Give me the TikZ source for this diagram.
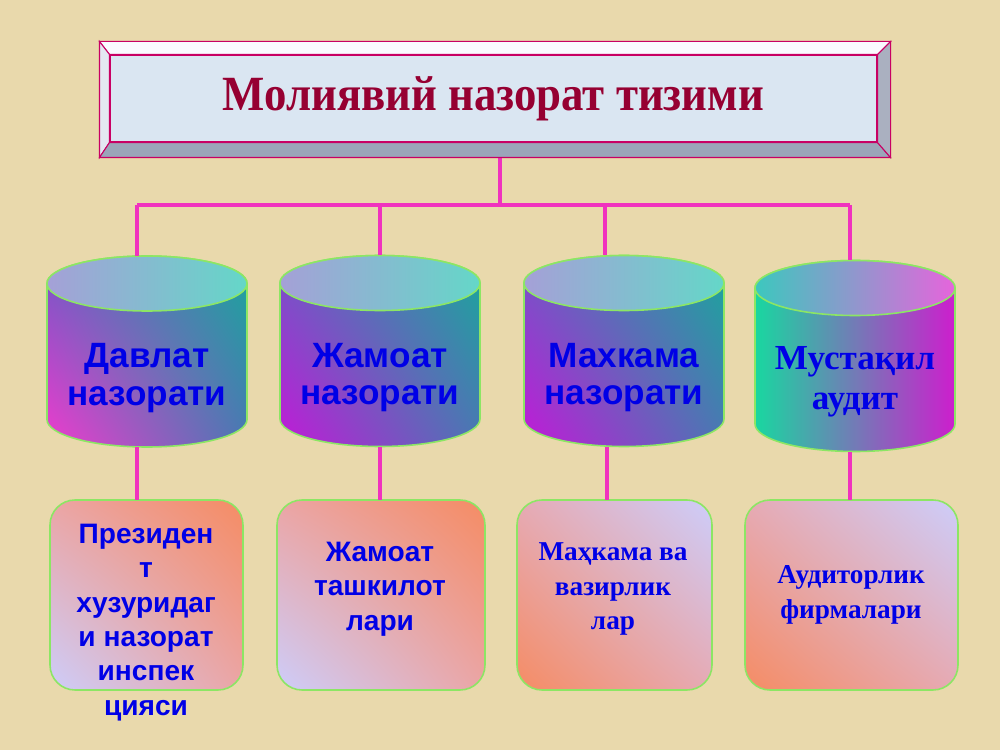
\documentclass[tikz,border=0pt]{standalone}
\usepackage{fontspec}
\setmainfont{Liberation Serif}
\newfontfamily\sansfont{Liberation Sans}
\newfontfamily\titlefont{Liberation Serif}[FakeStretch=0.91]
\usepackage{tikz}
\usetikzlibrary{calc,shadings}

\definecolor{parch}{RGB}{233,217,172}
\definecolor{linkpink}{RGB}{240,50,190}
\definecolor{rimgreen}{RGB}{140,230,100}
\definecolor{framered}{RGB}{200,0,100}
\definecolor{titlered}{RGB}{150,0,50}
\definecolor{titleblue}{RGB}{218,230,242}
\definecolor{labelblue}{RGB}{0,0,230}
% cylinder colours
\definecolor{lidlav}{RGB}{165,160,215}
\definecolor{lidturq}{RGB}{100,215,200}
\definecolor{lidteal}{RGB}{60,200,190}
\definecolor{lidpink}{RGB}{230,100,220}
\definecolor{bodypurple}{RGB}{112,88,198}
\definecolor{bodyteal}{RGB}{25,168,155}
\definecolor{bodypink}{RGB}{240,60,205}
\definecolor{bodymag}{RGB}{195,25,215}
\definecolor{bodysteel}{RGB}{75,118,180}
\definecolor{bodygreen}{RGB}{25,215,160}
\definecolor{bodyviolet}{RGB}{205,30,205}
% box colours
\definecolor{boxorange}{RGB}{245,140,100}
\definecolor{boxlav}{RGB}{205,205,250}
\definecolor{boxrose}{RGB}{235,165,165}
\definecolor{boxlilac}{RGB}{230,170,180}

% cylinder drawn round an empty node: #1 node, #2 body shading, #3 top shading
\newcommand\drum[3]{%
  \shadedraw[rim,#2] ([yshift=-0.55cm]#1.north west) -- ([yshift=0.55cm]#1.south west)
    arc[start angle=180,end angle=360,x radius=2cm,y radius=0.55cm]
    -- ([yshift=-0.55cm]#1.north east)
    arc[start angle=0,end angle=180,x radius=2cm,y radius=0.55cm] -- cycle;
  \shadedraw[rim,#3] ([yshift=-0.55cm]#1.north) ellipse[x radius=2cm,y radius=0.55cm];
}

\begin{document}
\begin{tikzpicture}[
    link/.style={draw=linkpink, line width=2.2pt},
    rim/.style={draw=rimgreen, line width=0.9pt},
    bevel/.style={draw=framered, line width=0.6pt},
    drumbox/.style={minimum width=4cm, minimum height=3.82cm, inner sep=0pt, outer sep=0pt},
    leaf/.style={rim, shade, rounded corners=0.5cm, minimum height=3.8cm, inner sep=0pt, outer sep=0pt},
    sansbig/.style={text=labelblue, align=center, font=\sansfont\bfseries\fontsize{20}{21.5}\selectfont},
    sanssmall/.style={text=labelblue, align=center, font=\sansfont\bfseries\fontsize{16}{19.5}\selectfont},
    serifbig/.style={text=labelblue, align=center, font=\bfseries\fontsize{20}{23}\selectfont},
    serifsmall/.style={text=labelblue, align=center, font=\bfseries\fontsize{15.5}{19.5}\selectfont},
  ]
    \fill[parch] (0,0) rectangle (20,15);

    % title
    \node[fill=titleblue, draw=framered, line width=0.6pt, minimum width=15.34cm,
      minimum height=1.74cm, inner sep=0pt, text=titlered,
      font=\titlefont\bfseries\fontsize{28}{30}\selectfont]
      (title) at (9.87,13.03) {Молиявий назорат тизими};

    % cylinders
    \node[drumbox] (dav) at (2.94,7.97) {};
    \node[drumbox] (jam) at (7.6,7.98) {};
    \node[drumbox] (mah) at (12.48,7.98) {};
    \node[drumbox] (mus) at (17.1,7.88) {};

    \drum{dav}{upper left=bodypurple, upper right=bodyteal, lower left=bodypink, lower right=bodysteel}
      {left color=lidlav, right color=lidturq}
    \drum{jam}{upper left=bodypurple, upper right=bodyteal, lower left=bodymag, lower right=bodysteel}
      {left color=lidlav, right color=lidturq}
    \drum{mah}{upper left=bodypurple, upper right=bodyteal, lower left=bodymag, lower right=bodysteel}
      {left color=lidlav, right color=lidturq}
    \drum{mus}{upper left=bodygreen, upper right=bodyviolet, lower left=bodygreen, lower right=bodyviolet}
      {left color=lidteal, right color=lidpink}

    \node[sansbig] (davtxt) at ([yshift=-0.53cm]dav.center) {Давлат\\назорати};
    \node[sansbig] (jamtxt) at ([yshift=-0.53cm]jam.center) {Жамоат\\назорати};
    \node[sansbig] (mahtxt) at ([yshift=-0.53cm]mah.center) {Махкама\\назорати};
    \node[serifbig] (mustxt) at ([yshift=-0.52cm]mus.center) {Мустақил\\аудит};

    % lower boxes
    \node[leaf, minimum width=3.86cm, upper right=boxorange, lower left=boxlav,
      upper left=boxrose, lower right=boxrose] (pres) at (2.93,3.1) {};
    \node[leaf, minimum width=4.16cm, upper right=boxorange, lower left=boxlav,
      upper left=boxrose, lower right=boxrose] (org) at (7.62,3.1) {};
    \node[leaf, minimum width=3.9cm, upper right=boxlav, lower left=boxorange,
      upper left=boxlilac, lower right=boxlilac] (vaz) at (12.29,3.1) {};
    \node[leaf, minimum width=4.26cm, upper right=boxlav, lower left=boxorange,
      upper left=boxlilac, lower right=boxlilac] (firm) at (17.03,3.1) {};

    \node[sanssmall] (prestxt) at (2.92,2.55) {Президен\\т\\хузуридаг\\и назорат\\инспек\\цияси};
    \node[sanssmall] (orgtxt) at (7.6,3.22) {Жамоат\\ташкилот\\лари};
    \node[serifsmall] (vaztxt) at (12.26,3.22) {Маҳкама ва\\вазирлик\\лар};
    \node[serifsmall] (firmtxt) at (17.02,3.1) {Аудиторлик\\фирмалари};

    % connectors
    \coordinate (bus) at (10,10.9);
    \coordinate (d1) at (2.74,10.9);
    \coordinate (d2) at (7.6,10.9);
    \coordinate (d3) at (12.1,10.9);
    \coordinate (d4) at (17.0,10.9);
    \draw[link] (title.south -| bus) -- (bus);
    \draw[link] (d1) -- (d4);
    \draw[link] (d1) -- (d1 |- dav.north);
    \draw[link] (d2) -- (d2 |- jam.north);
    \draw[link] (d3) -- (d3 |- mah.north);
    \draw[link] (d4) -- (d4 |- mus.north);
    \draw[link] (d1 |- dav.south) -- (d1 |- pres.north);
    \draw[link] (d2 |- jam.south) -- (d2 |- org.north);
    \draw[link] ([xshift=0.04cm]d3 |- mah.south) -- ([xshift=0.04cm]d3 |- vaz.north);
    \draw[link] (d4 |- mus.south) -- (d4 |- firm.north);

    % bevelled frame of the title
    \coordinate (tl) at ($(title.north west)+(-0.2,0.26)$);
    \coordinate (tr) at ($(title.north east)+(0.26,0.26)$);
    \coordinate (br) at ($(title.south east)+(0.26,-0.3)$);
    \coordinate (bl) at ($(title.south west)+(-0.2,-0.3)$);
    \filldraw[bevel, fill={rgb,255:red,250;green,250;blue,255}] (tl) -- (tr) -- (title.north east) -- (title.north west) -- cycle;
    \filldraw[bevel, fill={rgb,255:red,228;green,232;blue,242}] (tl) -- (title.north west) -- (title.south west) -- (bl) -- cycle;
    \filldraw[bevel, fill={rgb,255:red,155;green,165;blue,185}] (bl) -- (title.south west) -- (title.south east) -- (br) -- cycle;
    \filldraw[bevel, fill={rgb,255:red,170;green,176;blue,192}] (br) -- (title.south east) -- (title.north east) -- (tr) -- cycle;
\end{tikzpicture}
\end{document}
